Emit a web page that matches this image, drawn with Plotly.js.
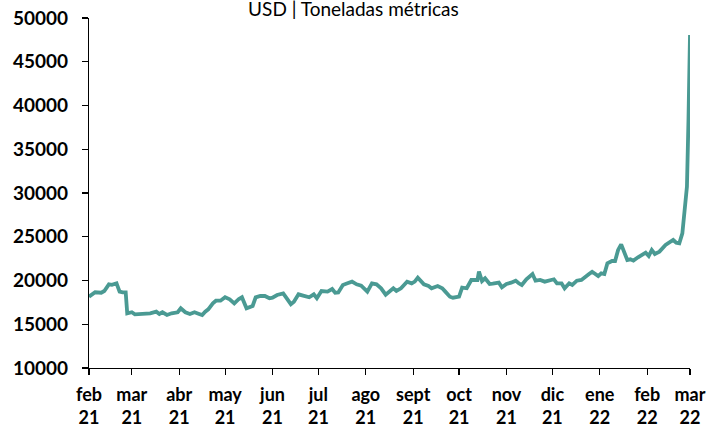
<!DOCTYPE html>
<html>
<head>
<meta charset="utf-8">
<script src="https://cdn.plot.ly/plotly-3.0.1.min.js"></script>
<style>
  html, body { margin: 0; padding: 0; background: #ffffff; }
  #chart { width: 709px; height: 430px; }
</style>
</head>
<body>
<div id="chart"></div>
<script>
const dates = [
  "2021-02-01","2021-02-05","2021-02-09","2021-02-11","2021-02-14","2021-02-16","2021-02-19","2021-02-21","2021-02-23","2021-02-25",
  "2021-02-26","2021-03-01","2021-03-03","2021-03-07","2021-03-10","2021-03-13","2021-03-17","2021-03-19","2021-03-21","2021-03-24",
  "2021-03-27","2021-03-31","2021-04-02","2021-04-05","2021-04-08","2021-04-11","2021-04-14","2021-04-16","2021-04-18","2021-04-20",
  "2021-04-23","2021-04-25","2021-04-28","2021-05-01","2021-05-04","2021-05-07","2021-05-10","2021-05-12","2021-05-15","2021-05-19",
  "2021-05-21","2021-05-24","2021-05-27","2021-05-30","2021-06-01","2021-06-04","2021-06-08","2021-06-10","2021-06-13","2021-06-15",
  "2021-06-18","2021-06-21","2021-06-25","2021-06-28","2021-06-30","2021-07-03","2021-07-07","2021-07-10","2021-07-12","2021-07-14",
  "2021-07-17","2021-07-20","2021-07-23","2021-07-26","2021-07-29","2021-08-02","2021-08-05","2021-08-08","2021-08-11","2021-08-14",
  "2021-08-17","2021-08-19","2021-08-21","2021-08-24","2021-08-26","2021-08-28","2021-08-31","2021-09-02","2021-09-04","2021-09-06",
  "2021-09-08","2021-09-11","2021-09-13","2021-09-17","2021-09-20","2021-09-22","2021-09-25","2021-09-27","2021-10-01","2021-10-03",
  "2021-10-06","2021-10-09","2021-10-13","2021-10-14","2021-10-16","2021-10-18","2021-10-21","2021-10-23","2021-10-27","2021-10-29",
  "2021-11-01","2021-11-04","2021-11-07","2021-11-09","2021-11-11","2021-11-14","2021-11-18","2021-11-20","2021-11-23","2021-11-26",
  "2021-11-29","2021-12-02","2021-12-04","2021-12-07","2021-12-09","2021-12-12","2021-12-14","2021-12-17","2021-12-20","2021-12-22",
  "2021-12-25","2021-12-27","2021-12-31","2022-01-02","2022-01-04","2022-01-06","2022-01-09","2022-01-11","2022-01-13","2022-01-15",
  "2022-01-17","2022-01-19","2022-01-21","2022-01-23","2022-01-26","2022-01-29","2022-01-31","2022-02-02","2022-02-04","2022-02-06",
  "2022-02-09","2022-02-13","2022-02-16","2022-02-18","2022-02-20","2022-02-22","2022-02-24","2022-02-25","2022-02-27","2022-02-28",
  "2022-03-01"
];
const prices = [
  18150,18650,18600,18800,19560,19500,19680,18730,18650,18650,
  16250,16370,16140,16180,16140,16250,16440,16180,16370,16060,
  16250,16370,16820,16370,16180,16370,16180,16060,16440,16710,
  17390,17690,17690,18080,17850,17390,17890,18080,16820,17090,
  18080,18230,18230,17970,18040,18340,18530,18050,17290,17580,
  18420,18270,18080,18420,17970,18800,18730,19030,18610,18640,
  19490,19680,19870,19560,19410,18730,19680,19560,19110,18380,
  18850,19110,18800,19110,19490,19870,19680,19870,20320,19940,
  19560,19370,19110,19370,19110,18730,18150,18030,18150,19180,
  19110,20060,20060,21010,19940,20250,19600,19640,19750,19220,
  19600,19750,19980,19680,19490,20140,20740,19980,20060,19870,
  19980,20140,19680,19680,19110,19680,19490,19980,20060,20370,
  20740,21000,20510,20820,20740,21960,22230,22230,23490,24130,
  23300,22340,22420,22270,22650,23030,23180,22800,23490,23030,
  23300,24060,24370,24630,24320,24250,25390,27290,30720,38340,
  48060
];
const monthTicks = [
  "2021-02-01","2021-03-01","2021-04-01","2021-05-01","2021-06-01","2021-07-01","2021-08-01",
  "2021-09-01","2021-10-01","2021-11-01","2021-12-01","2022-01-01","2022-02-01","2022-03-01"
];
const monthLabels = [
  "feb<br>21","mar<br>21","abr<br>21","may<br>21","jun<br>21","jul<br>21","ago<br>21",
  "sept<br>21","oct<br>21","nov<br>21","dic<br>21","ene<br>22","feb<br>22","mar<br>22"
];
const yTicks = [10000,15000,20000,25000,30000,35000,40000,45000,50000];
const titleText = "USD | Toneladas métricas";

const FONT = "Lato, 'Open Sans', sans-serif";

Plotly.newPlot("chart", [{
  type: "scatter",
  mode: "lines",
  x: dates,
  y: prices,
  line: { color: "#4a9a93", width: 3.8 },
  hoverinfo: "skip"
}], {
  width: 709,
  height: 430,
  margin: { l: 88.5, r: 19, t: 18, b: 62, pad: 0 },
  paper_bgcolor: "#ffffff",
  plot_bgcolor: "#ffffff",
  showlegend: false,
  title: {
    text: titleText,
    font: { family: FONT, size: 19, color: "#000000" },
    xref: "paper", x: 0.44, xanchor: "center",
    yref: "container", y: 0.978, yanchor: "middle"
  },
  xaxis: {
    type: "date",
    range: ["2021-02-01", "2022-03-01"],
    tickmode: "array",
    tickvals: monthTicks,
    ticktext: monthLabels,
    ticks: "outside",
    ticklen: 6,
    tickwidth: 1.2,
    tickcolor: "#000000",
    showline: true,
    linecolor: "#000000",
    linewidth: 1.2,
    showgrid: false,
    zeroline: false,
    ticklabelstandoff: 4,
    tickfont: { family: FONT, size: 18, color: "#000000", weight: "bold" }
  },
  yaxis: {
    range: [10000, 50000],
    tickmode: "array",
    tickvals: yTicks,
    ticktext: yTicks.map(String),
    ticks: "outside",
    ticklen: 6,
    tickwidth: 1.2,
    tickcolor: "#000000",
    showline: true,
    linecolor: "#000000",
    linewidth: 1.2,
    showgrid: false,
    zeroline: false,
    ticklabelstandoff: 10,
    tickfont: { family: FONT, size: 19, color: "#000000", weight: "bold" }
  }
}, { displayModeBar: false, staticPlot: true });
</script>
</body>
</html>
